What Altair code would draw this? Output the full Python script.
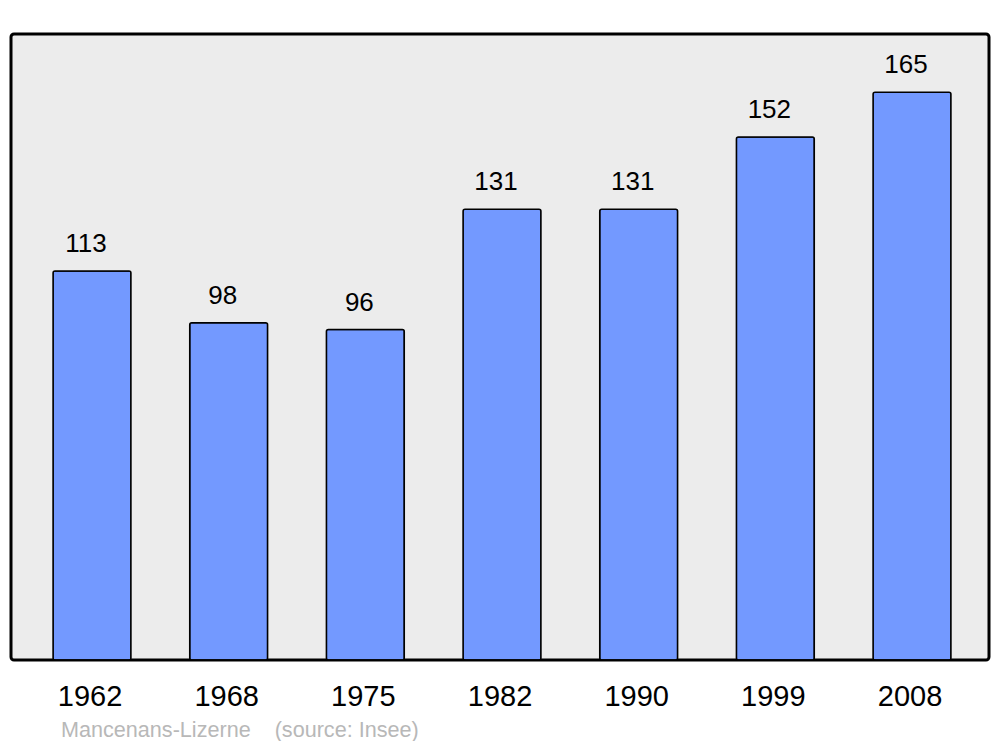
import altair as alt
import pandas as pd

years = ["1962", "1968", "1975", "1982", "1990", "1999", "2008"]
population = [113, 98, 96, 131, 131, 152, 165]
footer_text = ["Mancenans-Lizerne\u00a0\u00a0\u00a0\u00a0(source: Insee)"]

df = pd.DataFrame({"year": years, "pop": population})
foot = pd.DataFrame({"t": footer_text})

FONT = "Liberation Sans"

x = alt.X("year:N", sort=years, title=None,
          scale=alt.Scale(paddingInner=0.43, paddingOuter=0.293, align=0.525),
          axis=alt.Axis(domain=False, ticks=False, labelAngle=0, labelFontSize=29,
                        labelFont=FONT, labelColor="black", labelPadding=45,
                        labelOffset=-2, labelBaseline="alphabetic", grid=False))
y = alt.Y("pop:Q", title=None, scale=alt.Scale(domain=[0, 181.9], nice=False),
          axis=None)

bars = alt.Chart(df).mark_bar(fill="#7399ff", stroke="black", strokeWidth=1.5,
                              cornerRadius=2).encode(x=x, y=y)
labels = alt.Chart(df).mark_text(font=FONT, fontSize=26, color="black",
                                 baseline="alphabetic", dy=-19, dx=-6).encode(
    x=x, y=y, text="pop:Q")
footer = alt.Chart(foot).mark_text(font=FONT, fontSize=21.6, color="#b8b8b8",
                                   align="left", baseline="alphabetic").encode(
    x=alt.value(50), y=alt.value(703), text="t:N")

chart = alt.layer(bars, labels, footer).properties(
    width=978, height=626,
    autosize=alt.AutoSizeParams(type="none"),
    padding={"left": 3, "top": 26, "right": 3, "bottom": 81},
).configure(background="white").configure_view(
    stroke="black", strokeWidth=3, cornerRadius=3, fill="#ececec"
)

chart.save("out.html", embed_options={"renderer": "svg", "actions": False})
